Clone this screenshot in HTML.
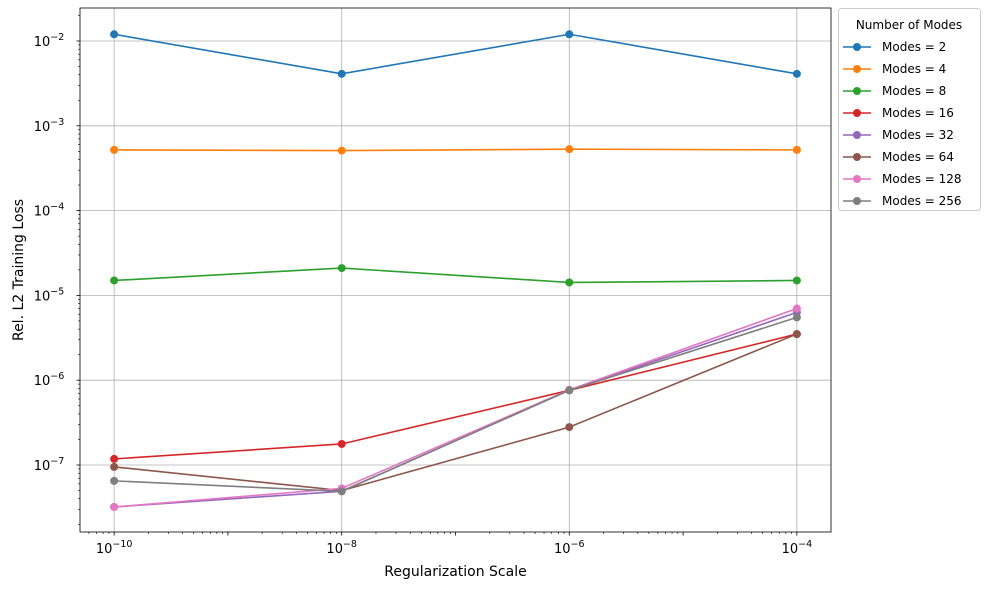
<!DOCTYPE html>
<html><head><meta charset="utf-8"><style>
body{margin:0;background:#fff;font-family:"Liberation Sans","DejaVu Sans",sans-serif}
svg text{font-family:"DejaVu Sans","Liberation Sans",sans-serif}
</style></head><body>
<svg id="chart" width="990" height="590" xmlns="http://www.w3.org/2000/svg"></svg>
<script>
const xValues=[1e-10,1e-8,1e-6,1e-4];
const seriesNames=["Modes = 2","Modes = 4","Modes = 8","Modes = 16","Modes = 32","Modes = 64","Modes = 128","Modes = 256"];
const seriesColors=["#1f77b4","#ff7f0e","#2ca02c","#d62728","#9467bd","#8c564b","#e377c2","#7f7f7f"];
const modes2=[1.2e-2,4.1e-3,1.2e-2,4.1e-3];
const modes4=[5.2e-4,5.1e-4,5.3e-4,5.2e-4];
const modes8=[1.5e-5,2.1e-5,1.42e-5,1.5e-5];
const modes16=[1.18e-7,1.77e-7,7.6e-7,3.5e-6];
const modes32=[3.2e-8,4.9e-8,7.6e-7,6.3e-6];
const modes64=[9.5e-8,5.0e-8,2.8e-7,3.5e-6];
const modes128=[3.2e-8,5.3e-8,7.7e-7,7.0e-6];
const modes256=[6.5e-8,4.9e-8,7.6e-7,5.5e-6];
const allSeries=[modes2,modes4,modes8,modes16,modes32,modes64,modes128,modes256];
const xTickExps=[-10,-8,-6,-4];
const yTickExps=[-7,-6,-5,-4,-3,-2];

const L=80,R=831,T=8,B=532;
const xMin=-10.3,xMax=-3.70,yMin=-7.79,yMax=-1.611;
const sx=v=>L+(Math.log10(v)-xMin)/(xMax-xMin)*(R-L);
const sy=v=>B-(Math.log10(v)-yMin)/(yMax-yMin)*(B-T);
const svg=document.getElementById('chart');
const NS="http://www.w3.org/2000/svg";
function el(tag,attrs,parent){const e=document.createElementNS(NS,tag);for(const k in attrs)e.setAttribute(k,attrs[k]);(parent||svg).appendChild(e);return e;}

xTickExps.forEach(e=>{const x=sx(Math.pow(10,e));const g=el('line',{x1:x,x2:x,y1:T,y2:B,stroke:'#b0b0b0','stroke-width':0.8});

});
yTickExps.forEach(e=>{const y=sy(Math.pow(10,e));const g=el('line',{x1:L,x2:R,y1:y,y2:y,stroke:'#b0b0b0','stroke-width':0.8});

});

allSeries.forEach((vals,i)=>{
  const pts=vals.map((v,j)=>sx(xValues[j])+','+sy(v)).join(' ');
  const pl=el('polyline',{points:pts,fill:'none',stroke:seriesColors[i],'stroke-width':1.6});
  
  
  vals.forEach((v,j)=>{const c=el('circle',{cx:sx(xValues[j]),cy:sy(v),r:4,fill:seriesColors[i]});
  
  });
});

const fr=el('rect',{x:L,y:T,width:R-L,height:B-T,fill:'none',stroke:'#000','stroke-width':0.8});



for(let e=-11;e<=-3;e++){for(let m=1;m<10;m++){const lv=e+Math.log10(m);if(lv<xMin||lv>xMax)continue;const x=sx(Math.pow(10,lv));
 el('line',{x1:x,x2:x,y1:B,y2:B+(m===1?3.5:2),stroke:'#000','stroke-width':m===1?0.8:0.6});}}
xTickExps.forEach(e=>{const x=sx(Math.pow(10,e));const t=el('text',{x:x,y:B+21,'text-anchor':'middle','font-size':13});
 t.innerHTML='10<tspan dy="-6" font-size="9.5">−'+(-e)+'</tspan>';
 
 });
for(let e=-8;e<=-1;e++){for(let m=1;m<10;m++){const lv=e+Math.log10(m);if(lv<yMin||lv>yMax)continue;const y=sy(Math.pow(10,lv));
 el('line',{x1:L,x2:L-(m===1?3.5:2),y1:y,y2:y,stroke:'#000','stroke-width':m===1?0.8:0.6});}}
yTickExps.forEach(e=>{const y=sy(Math.pow(10,e));const t=el('text',{x:L-31,y:y+5,'text-anchor':'middle','font-size':13});
 t.innerHTML='10<tspan dy="-6" font-size="9.5">−'+(-e)+'</tspan>';
 
 });

const xt=el('text',{x:(L+R)/2,y:576,'text-anchor':'middle','font-size':14});xt.textContent='Regularization Scale';


const yt=el('text',{x:0,y:0,'text-anchor':'middle','font-size':14,transform:'translate(23,'+((T+B)/2)+') rotate(-90)'});yt.textContent='Rel. L2 Training Loss';



const lg=el('g',{});


el('rect',{x:838.5,y:8.5,width:142,height:202,rx:3,fill:'#fff',stroke:'#ccc'},lg);
const lt=el('text',{x:909,y:29,'text-anchor':'middle','font-size':12},lg);lt.textContent='Number of Modes';
seriesNames.forEach((n,i)=>{const y=47+i*22;
 const row=el('g',{},lg);
 
 
 el('line',{x1:843,x2:871,y1:y,y2:y,stroke:seriesColors[i],'stroke-width':1.6},row);
 el('circle',{cx:857,cy:y,r:4,fill:seriesColors[i]},row);
 const t=el('text',{x:882,y:y+4,'font-size':12},row);t.textContent=n;});
</script>
</body></html>
